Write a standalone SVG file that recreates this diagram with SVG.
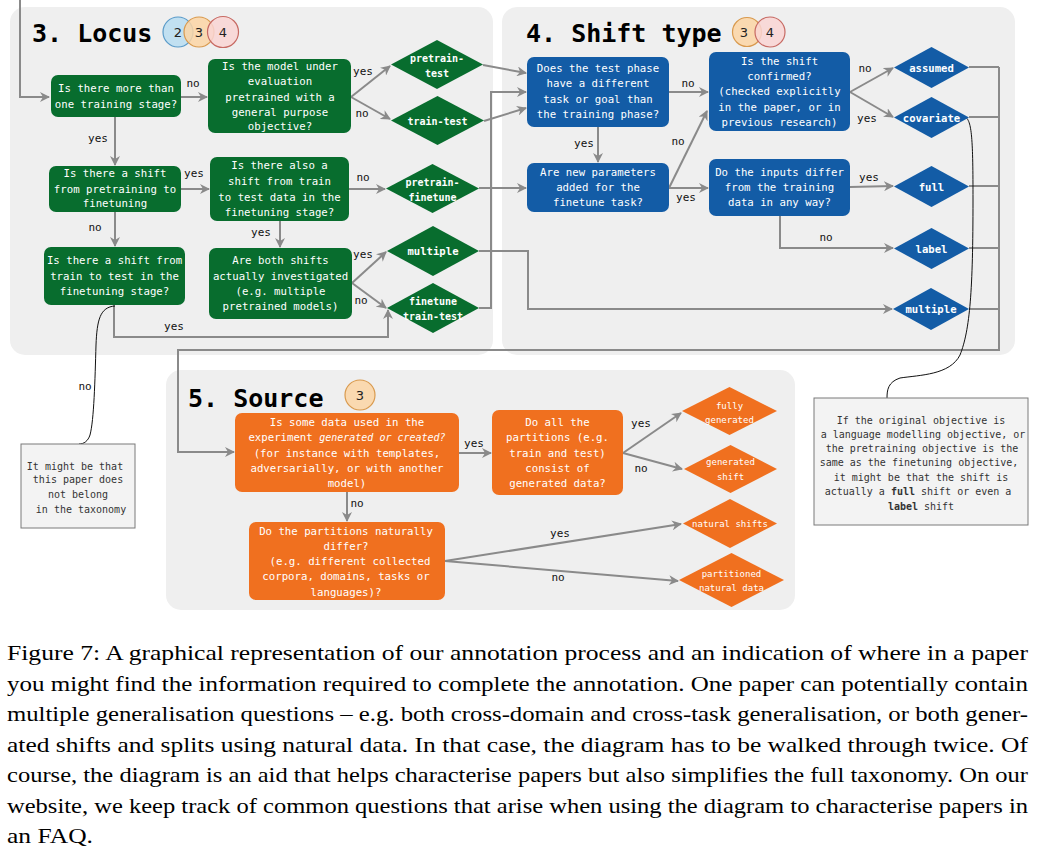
<svg xmlns="http://www.w3.org/2000/svg" width="1037" height="850" viewBox="0 0 1037 850">
<defs>
<marker id="ah" viewBox="0 0 10 10" refX="9" refY="5" markerWidth="10" markerHeight="10" markerUnits="userSpaceOnUse" orient="auto"><path d="M0,0 L10,5 L0,10 L3,5 z" fill="#8a8a8a"/></marker>
<style>
.panel{fill:#efefef}
.g{fill:#086d2e}
.b{fill:#135ca6}
.o{fill:#f0701f}
.t{font-family:"DejaVu Sans Mono",monospace;font-size:10.7px;fill:#fff;text-anchor:middle}
.dt{font-family:"DejaVu Sans Mono",monospace;font-size:10px;font-weight:bold;fill:#fff;text-anchor:middle}
.st{font-family:"DejaVu Sans Mono",monospace;font-size:9px;fill:#fff;text-anchor:middle}
.lbl{font-family:"DejaVu Sans Mono",monospace;font-size:11px;fill:#111;text-anchor:middle}
.c{fill:none;stroke:#8a8a8a;stroke-width:2}
.a{marker-end:url(#ah)}
.curve{fill:none;stroke:#111;stroke-width:1}
.note{fill:#f3f3f3;stroke:#7a7a7a;stroke-width:1}
.nt{font-family:"DejaVu Sans Mono",monospace;font-size:10px;fill:#333;text-anchor:middle}
.title{font-family:"DejaVu Sans Mono",monospace;font-weight:bold;font-size:25px;fill:#000}
.num{font-family:"DejaVu Sans",sans-serif;font-size:13px;fill:#222;text-anchor:middle}
.cap{font-family:"Liberation Serif","Times New Roman",serif;font-size:21px;fill:#000}
.c2{fill:#b9ddf1;stroke:#5a9bc9;stroke-width:1.2;fill-opacity:0.85}
.c3{fill:#fbd5a5;stroke:#d99a4e;stroke-width:1.2;fill-opacity:0.85}
.c4{fill:#f9d5d3;stroke:#c76a63;stroke-width:1.2;fill-opacity:0.85}
</style>
</defs>

<g id="panels">
<rect class="panel" x="10" y="7" width="483" height="348" rx="15"/>
<rect class="panel" x="502" y="7" width="513" height="348" rx="15"/>
<rect class="panel" x="166" y="370" width="629" height="240" rx="15"/>
<text class="title" x="32" y="42">3. Locus</text>
<text class="title" x="526" y="42">4. Shift type</text>
<text class="title" x="188" y="407">5. Source</text>
<circle class="c2" cx="178" cy="32" r="15"/>
<circle class="c3" cx="199" cy="32" r="15"/>
<circle class="c4" cx="223" cy="32" r="15.5"/>
<text class="num" x="178" y="37">2</text><text class="num" x="199" y="37">3</text><text class="num" x="223" y="37">4</text>
<circle class="c3" cx="747" cy="32" r="14.5"/>
<circle class="c4" cx="770" cy="32" r="15"/>
<text class="num" x="744" y="37">3</text><text class="num" x="770" y="37">4</text>
<circle class="c3" cx="360" cy="395" r="15"/>
<text class="num" x="360" y="400">3</text>
</g>

<g id="connectors">
<path class="c a" d="M20,0 L20,97 L49,97"/>
<path class="c a" d="M181,97 L207,97"/>
<path class="c a" d="M115,117 L115,165"/>
<path class="c a" d="M351,97 L390,66"/>
<path class="c a" d="M351,97 L390,119"/>
<path class="c a" d="M181,189 L209,189"/>
<path class="c a" d="M115,212 L115,246"/>
<path class="c a" d="M349,189 L385,189"/>
<path class="c a" d="M280,221 L280,247"/>
<path class="c a" d="M352,283 L386,252"/>
<path class="c a" d="M352,283 L386,308"/>
<path class="c a" d="M114,305 L114,337 L388,337 L388,310"/>
<path class="c a" d="M483,65 L526,73"/>
<path class="c a" d="M484,121 L526,108"/>
<path class="c a" d="M479,308 L491,308 L491,92 L526,92"/>
<path class="c a" d="M479,188 L526,188"/>
<path class="c a" d="M479,251 L528,251 L528,309 L892,309"/>
<path class="c a" d="M598,127 L598,162"/>
<path class="c a" d="M669,92 L708,92"/>
<path class="c a" d="M669,188 L707,111"/>
<path class="c a" d="M669,188 L708,188"/>
<path class="c a" d="M850,92 L893,68"/>
<path class="c a" d="M850,92 L893,117"/>
<path class="c a" d="M850,187 L893,186"/>
<path class="c a" d="M780,216 L780,248 L893,248"/>
<path class="c" d="M969,67 L999,67 M969,117 L999,117 M969,186 L999,186 M969,248 L999,248 M969,309 L999,309"/>
<path class="c a" d="M999,67 L999,350 L178,350 L178,452 L234,452"/>
<path class="c a" d="M459,453 L491,453"/>
<path class="c a" d="M623,453 L681,413"/>
<path class="c a" d="M623,453 L682,469"/>
<path class="c a" d="M347,492 L347,521"/>
<path class="c a" d="M445,561 L681,524"/>
<path class="c a" d="M445,561 L678,581"/>
<path class="curve" d="M115,306 C100,307 97,320 96,345 C95,380 94,420 90,435 C88,441 84,444 79,444"/>
<path class="curve" d="M965,117 C972,120 973,140 973,200 C973,290 970,330 960,355 C950,375 920,375 900,378 C888,382 887,390 887,398"/>
</g>

<g id="labels">
<text class="lbl" x="193" y="87">no</text>
<text class="lbl" x="98" y="142">yes</text>
<text class="lbl" x="363" y="75">yes</text>
<text class="lbl" x="362" y="117">no</text>
<text class="lbl" x="194" y="177">yes</text>
<text class="lbl" x="363" y="181">no</text>
<text class="lbl" x="95" y="231">no</text>
<text class="lbl" x="261" y="236">yes</text>
<text class="lbl" x="363" y="258">yes</text>
<text class="lbl" x="361" y="304">no</text>
<text class="lbl" x="174" y="330">yes</text>
<text class="lbl" x="85" y="390">no</text>
<text class="lbl" x="688" y="87">no</text>
<text class="lbl" x="584" y="147">yes</text>
<text class="lbl" x="678" y="145">no</text>
<text class="lbl" x="686" y="201">yes</text>
<text class="lbl" x="865" y="72">no</text>
<text class="lbl" x="867" y="122">yes</text>
<text class="lbl" x="869" y="181">yes</text>
<text class="lbl" x="826" y="241">no</text>
<text class="lbl" x="474" y="447">yes</text>
<text class="lbl" x="641" y="427">yes</text>
<text class="lbl" x="641" y="472">no</text>
<text class="lbl" x="357" y="507">no</text>
<text class="lbl" x="560" y="537">yes</text>
<text class="lbl" x="558" y="581">no</text>
</g>

<g id="n-more-stages"><rect class="g" x="51" y="75" width="130" height="42" rx="7"/>
<text class="t" x="116" y="92">Is there more than</text><text class="t" x="116" y="108">one training stage?</text></g>
<g id="n-pretrained-general"><rect class="g" x="208" y="59" width="143" height="74" rx="7"/>
<text class="t" x="280" y="70">Is the model under</text><text class="t" x="280" y="85">evaluation</text><text class="t" x="280" y="101">pretrained with a</text><text class="t" x="280" y="116">general purpose</text><text class="t" x="280" y="130">objective?</text></g>
<g id="n-shift-pt-ft"><rect class="g" x="49" y="166" width="132" height="46" rx="7"/>
<text class="t" x="115" y="177">Is there a shift</text><text class="t" x="115" y="193">from pretraining to</text><text class="t" x="115" y="207">finetuning</text></g>
<g id="n-also-shift"><rect class="g" x="210" y="157" width="139" height="64" rx="7"/>
<text class="t" x="279.5" y="169">Is there also a</text><text class="t" x="279.5" y="185">shift from train</text><text class="t" x="279.5" y="201">to test data in the</text><text class="t" x="279.5" y="216">finetuning stage?</text></g>
<g id="n-shift-ft"><rect class="g" x="44" y="247" width="141" height="58" rx="7"/>
<text class="t" x="114.5" y="264">Is there a shift from</text><text class="t" x="114.5" y="280">train to test in the</text><text class="t" x="114.5" y="295">finetuning stage?</text></g>
<g id="n-both-shifts"><rect class="g" x="209" y="248" width="143" height="71" rx="7"/>
<text class="t" x="280.5" y="264">Are both shifts</text><text class="t" x="280.5" y="280">actually investigated</text><text class="t" x="280.5" y="295">(e.g. multiple</text><text class="t" x="280.5" y="310">pretrained models)</text></g>

<g id="d-pretrain-test"><polygon class="g" points="391,64.5 437,40 483,64.5 437,89"/>
<text class="dt" x="437" y="61.5">pretrain-</text><text class="dt" x="437" y="76.5">test</text></g>
<g id="d-train-test"><polygon class="g" points="391,120.5 437.5,96 484,120.5 437.5,145"/>
<text class="dt" x="437.5" y="124.5">train-test</text></g>
<g id="d-pretrain-finetune"><polygon class="g" points="386,188.5 432.5,164 479,188.5 432.5,213"/>
<text class="dt" x="432.5" y="185.5">pretrain-</text><text class="dt" x="432.5" y="200.5">finetune</text></g>
<g id="d-multiple-g"><polygon class="g" points="387,251 433,226 479,251 433,276"/>
<text class="dt" x="433" y="255" style="font-size:10.6px">multiple</text></g>
<g id="d-finetune-train-test"><polygon class="g" points="387,308 433,283 479,308 433,333"/>
<text class="dt" x="433" y="304.5">finetune</text><text class="dt" x="433" y="319.5">train-test</text></g>

<g id="n-test-phase"><rect class="b" x="527" y="57" width="142" height="70" rx="7"/>
<text class="t" x="598" y="72">Does the test phase</text><text class="t" x="598" y="87">have a different</text><text class="t" x="598" y="103">task or goal than</text><text class="t" x="598" y="118">the training phase?</text></g>
<g id="n-new-params"><rect class="b" x="527" y="163" width="142" height="49" rx="7"/>
<text class="t" x="598" y="176">Are new parameters</text><text class="t" x="598" y="191">added for the</text><text class="t" x="598" y="206">finetune task?</text></g>
<g id="n-confirmed"><rect class="b" x="709" y="52" width="141" height="79" rx="7"/>
<text class="t" x="779.5" y="65">Is the shift</text><text class="t" x="779.5" y="80">confirmed?</text><text class="t" x="779.5" y="95">(checked explicitly</text><text class="t" x="779.5" y="111">in the paper, or in</text><text class="t" x="779.5" y="126">previous research)</text></g>
<g id="n-inputs-differ"><rect class="b" x="709" y="159" width="141" height="57" rx="7"/>
<text class="t" x="779.5" y="176">Do the inputs differ</text><text class="t" x="779.5" y="191">from the training</text><text class="t" x="779.5" y="206">data in any way?</text></g>

<g id="d-assumed"><polygon class="b" points="894,67.5 931.5,47 969,67.5 931.5,88"/><text class="dt" x="931.5" y="71.5" style="font-size:10.6px">assumed</text></g>
<g id="d-covariate"><polygon class="b" points="894,117.5 931.5,97 969,117.5 931.5,138"/><text class="dt" x="931.5" y="121.5" style="font-size:10.6px">covariate</text></g>
<g id="d-full"><polygon class="b" points="894,186.5 931.5,166 969,186.5 931.5,207"/><text class="dt" x="931.5" y="190.5" style="font-size:10.6px">full</text></g>
<g id="d-label"><polygon class="b" points="894,248.5 931.5,228 969,248.5 931.5,269"/><text class="dt" x="931.5" y="252.5" style="font-size:10.6px">label</text></g>
<g id="d-multiple-b"><polygon class="b" points="893,309 931,288 969,309 931,330"/><text class="dt" x="931" y="313" style="font-size:10.6px">multiple</text></g>

<g id="n-generated"><rect class="o" x="235" y="413" width="224" height="79" rx="7"/>
<text class="t" x="347" y="426">Is some data used in the</text>
<text class="t" x="347" y="441">experiment <tspan font-style="italic" font-size="10px">generated or created?</tspan></text>
<text class="t" x="347" y="457">(for instance with templates,</text><text class="t" x="347" y="472">adversarially, or with another</text><text class="t" x="347" y="487">model)</text></g>
<g id="n-all-partitions"><rect class="o" x="492" y="410" width="131" height="85" rx="7"/>
<text class="t" x="557.5" y="426">Do all the</text><text class="t" x="557.5" y="441">partitions (e.g.</text><text class="t" x="557.5" y="457">train and test)</text><text class="t" x="557.5" y="472">consist of</text><text class="t" x="557.5" y="487">generated data?</text></g>
<g id="n-naturally-differ"><rect class="o" x="249" y="522" width="196" height="78" rx="7"/>
<text class="t" x="346" y="535">Do the partitions naturally</text><text class="t" x="346" y="550">differ?</text><text class="t" x="350" y="565">(e.g. different collected</text><text class="t" x="346" y="580">corpora, domains, tasks or</text><text class="t" x="346" y="596">languages)?</text></g>

<g id="d-fully-generated"><polygon class="o" points="682,411 729.5,387 777,411 729.5,435"/><text class="st" x="729.5" y="409">fully</text><text class="st" x="729.5" y="423">generated</text></g>
<g id="d-generated-shift"><polygon class="o" points="684,469 730.5,445 777,469 730.5,493"/><text class="st" x="730.5" y="465">generated</text><text class="st" x="730.5" y="480">shift</text></g>
<g id="d-natural-shifts"><polygon class="o" points="683,523.5 730,499 777,523.5 730,548"/><text class="st" x="730" y="527">natural shifts</text></g>
<g id="d-partitioned"><polygon class="o" points="679,580 731.5,553 784,580 731.5,607"/><text class="st" x="731.5" y="577">partitioned</text><text class="st" x="731.5" y="591">natural data</text></g>

<g id="note-left"><rect class="note" x="21" y="444" width="114" height="84"/>
<text class="nt" x="75" y="469.5">It might be that</text><text class="nt" x="78" y="483">this paper does</text><text class="nt" x="78" y="498">not belong</text><text class="nt" x="81" y="513">in the taxonomy</text></g>
<g id="note-right"><rect class="note" x="814" y="398" width="214" height="127"/>
<text class="nt" x="921" y="423.5">If the original objective is</text>
<text class="nt" x="923" y="437.5">a language modelling objective, or</text>
<text class="nt" x="922" y="451.5">the pretraining objective is the</text>
<text class="nt" x="919" y="465.5">same as the finetuning objective,</text>
<text class="nt" x="921" y="480.5">it might be that the shift is</text>
<text class="nt" x="918" y="494.5">actually a <tspan font-weight="bold">full</tspan> shift or even a</text>
<text class="nt" x="921" y="509.5"><tspan font-weight="bold">label</tspan> shift</text></g>

<g id="caption">
<text class="cap" x="7" y="660" textLength="1021" lengthAdjust="spacingAndGlyphs">Figure 7: A graphical representation of our annotation process and an indication of where in a paper</text>
<text class="cap" x="7" y="690.5" textLength="1021" lengthAdjust="spacingAndGlyphs">you might find the information required to complete the annotation. One paper can potentially contain</text>
<text class="cap" x="7" y="721" textLength="1021" lengthAdjust="spacingAndGlyphs">multiple generalisation questions – e.g. both cross-domain and cross-task generalisation, or both gener-</text>
<text class="cap" x="7" y="751.5" textLength="1021" lengthAdjust="spacingAndGlyphs">ated shifts and splits using natural data. In that case, the diagram has to be walked through twice. Of</text>
<text class="cap" x="7" y="782" textLength="1021" lengthAdjust="spacingAndGlyphs">course, the diagram is an aid that helps characterise papers but also simplifies the full taxonomy. On our</text>
<text class="cap" x="7" y="812.5" textLength="1021" lengthAdjust="spacingAndGlyphs">website, we keep track of common questions that arise when using the diagram to characterise papers in</text>
<text class="cap" x="7" y="843" textLength="86" lengthAdjust="spacingAndGlyphs">an FAQ.</text>
</g>
</svg>
